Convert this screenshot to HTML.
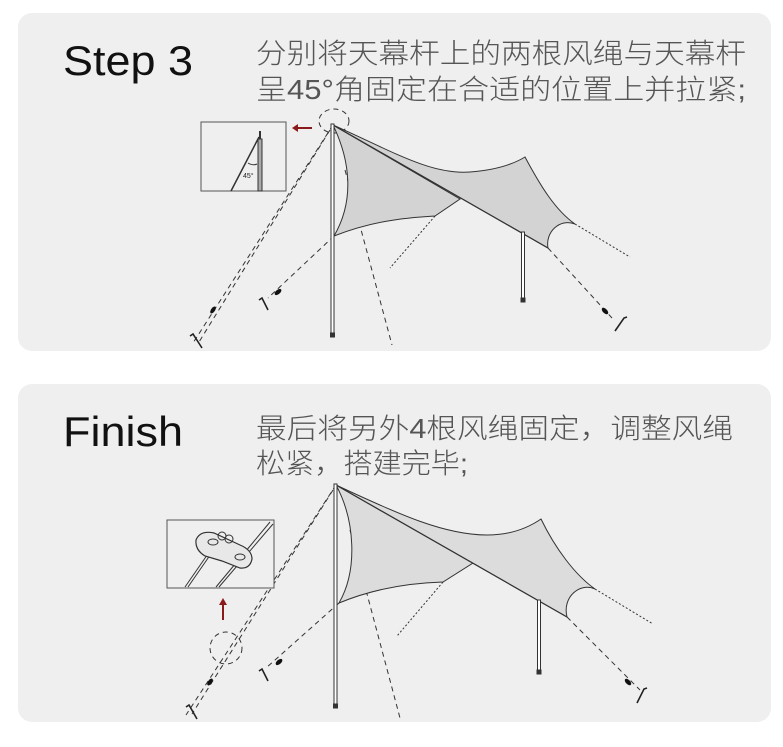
<!DOCTYPE html>
<html><head><meta charset="utf-8"><style>
html,body{margin:0;padding:0;background:#fff;}
svg{display:block;}
</style></head><body>
<svg width="783" height="747" viewBox="0 0 783 747" xmlns="http://www.w3.org/2000/svg">
<rect x="18" y="13" width="753" height="338" rx="14" fill="#efefef"/>
<rect x="18" y="384" width="753" height="338" rx="14" fill="#efefef"/>
<g font-family="'Liberation Sans','Noto Sans CJK SC',sans-serif">
<text x="63" y="75" font-size="42" fill="#111" textLength="130" lengthAdjust="spacingAndGlyphs">Step 3</text>
<text x="63" y="446" font-size="42" fill="#111" textLength="120" lengthAdjust="spacingAndGlyphs">Finish</text>
<g fill="#555" font-size="28" font-weight="300">
<text x="256" y="63" textLength="490" lengthAdjust="spacingAndGlyphs">分别将天幕杆上的两根风绳与天幕杆</text>
<text x="256" y="99" textLength="490" lengthAdjust="spacingAndGlyphs">呈45°角固定在合适的位置上并拉紧;</text>
<text x="256" y="438" textLength="477" lengthAdjust="spacingAndGlyphs">最后将另外4根风绳固定，调整风绳</text>
<text x="256" y="473" textLength="212" lengthAdjust="spacingAndGlyphs">松紧，搭建完毕;</text>
</g>
</g>

<!-- TOP DIAGRAM -->
<g stroke="#333" fill="none" stroke-width="1">
<g stroke-dasharray="5,4">
<line x1="333" y1="125" x2="193" y2="343"/>
<line x1="330" y1="130" x2="199" y2="342"/>
<line x1="334" y1="236" x2="268" y2="298"/>
<line x1="345" y1="170" x2="392" y2="345"/>
<line x1="548" y1="248" x2="612" y2="318"/>
<ellipse cx="334" cy="121" rx="15" ry="12"/>
</g>
<g stroke-dasharray="2,2">
<line x1="435" y1="216" x2="390" y2="268"/>
<line x1="575" y1="224" x2="630" y2="257"/>
</g>
<path d="M333,125 C350,160 355,200 334,236 C370,222 400,218 435,216 L460,199 L333,125Z" fill="#d3d3d3"/>
<path d="M333,125 C390,150 430,175 470,172 C495,170 512,165 525,157 C540,185 555,210 575,224 C560,218 545,232 548,248 Z" fill="#d3d3d3"/>
<line x1="333" y1="125" x2="548" y2="248" stroke-width="1.2"/>
<rect x="331" y="124" width="3" height="213" fill="#fff" stroke="#333"/>
<rect x="521.5" y="232" width="3" height="70" fill="#fff" stroke="#333"/>
<rect x="330.5" y="333" width="4" height="4" fill="#333"/>
<rect x="521" y="298" width="4" height="4" fill="#333"/>
<g fill="#111" stroke="none">
<ellipse cx="213" cy="310" rx="2" ry="4" transform="rotate(35 213 310)"/>
<ellipse cx="278" cy="292" rx="2.2" ry="4" transform="rotate(50 278 292)"/>
<ellipse cx="605" cy="311" rx="2.2" ry="4" transform="rotate(-45 605 311)"/>
</g>
<g stroke="#222" stroke-width="1.6">
<path d="M190,336 L193,334 L202,348"/>
<path d="M259,300 L262,298 L268,310"/>
<path d="M627,317 L624,318 L615,331"/>
</g>
<!-- inset -->
<rect x="201" y="122" width="85" height="69" fill="#efefef" stroke="#555"/>
<rect x="258" y="139" width="4" height="52" fill="#aaa" stroke="#333"/>
<line x1="260" y1="131" x2="260" y2="139" stroke-width="2"/>
<line x1="259" y1="137" x2="231" y2="191" stroke-width="1.5"/>
<path d="M248,163 Q253,166 257,164"/>
<text x="243" y="178" font-size="7" font-family="'Liberation Sans',sans-serif" fill="#222" stroke="none">45°</text>
</g>
<g stroke="#8b1a1a" stroke-width="2" fill="#8b1a1a">
<line x1="312" y1="128" x2="296" y2="128"/>
<path d="M292,128 L298,124 L298,132Z" stroke="none"/>
</g>

<!-- BOTTOM DIAGRAM -->
<g stroke="#333" fill="none" stroke-width="1">
<g stroke-dasharray="5,4">
<line x1="336" y1="485" x2="186" y2="715"/>
<line x1="333" y1="490" x2="192" y2="714"/>
<line x1="339" y1="603" x2="266" y2="668"/>
<line x1="350" y1="530" x2="400" y2="718"/>
<line x1="567" y1="617" x2="640" y2="690"/>
<circle cx="226" cy="648" r="16"/>
</g>
<g stroke-dasharray="2,2">
<line x1="443" y1="582" x2="397" y2="636"/>
<line x1="595" y1="589" x2="653" y2="624"/>
</g>
<path d="M336,485 C355,520 358,570 339,603 C375,588 410,583 443,582 L473,563 L336,485Z" fill="#dcdcdc"/>
<path d="M336,485 C400,515 445,535 487,535 C510,535 528,528 541,519 C555,548 575,575 595,589 C580,582 562,597 567,617 Z" fill="#dcdcdc"/>
<line x1="336" y1="485" x2="567" y2="617" stroke-width="1.2"/>
<rect x="334" y="484" width="3" height="224" fill="#fff" stroke="#333"/>
<rect x="537.5" y="600" width="3" height="74" fill="#fff" stroke="#333"/>
<rect x="333.5" y="704" width="4" height="4" fill="#333"/>
<rect x="537" y="670" width="4" height="4" fill="#333"/>
<g fill="#111" stroke="none">
<ellipse cx="210" cy="682" rx="2" ry="4" transform="rotate(35 210 682)"/>
<ellipse cx="279" cy="662" rx="2.2" ry="4" transform="rotate(50 279 662)"/>
<ellipse cx="628" cy="682" rx="2.2" ry="4" transform="rotate(-45 628 682)"/>
</g>
<g stroke="#222" stroke-width="1.6">
<path d="M186,707 L189,705 L197,719"/>
<path d="M259,671 L262,669 L268,681"/>
<path d="M647,688 L644,689 L637,703"/>
</g>
<!-- inset -->
<rect x="167" y="520" width="107" height="68" fill="#efefef" stroke="#555"/>
<line x1="185" y1="587" x2="212" y2="548"/><line x1="188" y1="587" x2="215" y2="548"/>
<line x1="216" y1="587" x2="270" y2="522"/><line x1="219" y1="587" x2="273" y2="524"/>
<path d="M196,540 Q200,530 214,533 L240,545 Q252,550 252,559 Q250,569 240,568 L222,561 L205,556 Q195,550 196,540Z" fill="#e8e8e8" stroke-width="1.2"/>
<ellipse cx="213" cy="542" rx="5" ry="3"/>
<ellipse cx="240" cy="557" rx="5" ry="3"/>
<circle cx="222" cy="536" r="4"/><circle cx="229" cy="539" r="4"/>
</g>
<g stroke="#8b1a1a" stroke-width="2" fill="#8b1a1a">
<line x1="223" y1="620" x2="223" y2="603"/>
<path d="M223,598 L219,605 L227,605Z" stroke="none"/>
</g>
</svg>
</body></html>
